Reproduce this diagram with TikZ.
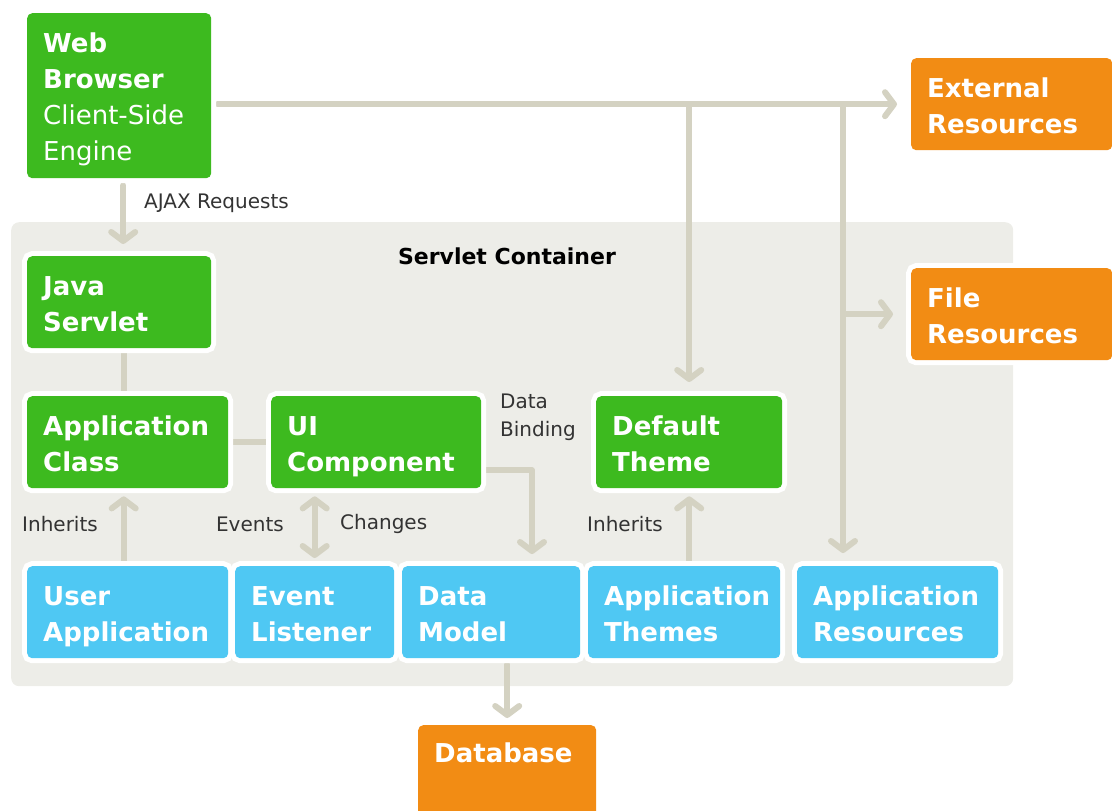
\documentclass[tikz,border=0pt]{standalone}
\usepackage{fontspec}
\setmainfont{DejaVu Sans}
\usetikzlibrary{arrows.meta,calc}
\definecolor{vgreen}{HTML}{3DBA1F}
\definecolor{vblue}{HTML}{4FC8F3}
\definecolor{vorange}{HTML}{F28C14}
\definecolor{vgrey}{HTML}{EDEDE8}
\definecolor{vline}{HTML}{D4D2C2}
\definecolor{vtext}{HTML}{333333}
\pgfdeclarelayer{bg}
\pgfdeclarelayer{conn}
\pgfsetlayers{bg,conn,main}
\tikzset{
  box/.style={rounded corners=5pt, anchor=north west, inner xsep=16pt, inner ysep=0pt,
    align=left, text=white, font=\fontsize{26}{36}\selectfont\bfseries,
    preaction={draw=white, line width=10pt},
    execute at begin node={\rule{0pt}{39pt}},
    execute at end node={\rule[-17pt]{0pt}{0pt}}},
  greenbox/.style={box, fill=vgreen},
  bluebox/.style={box, fill=vblue},
  orangebox/.style={box, fill=vorange},
  conn/.style={draw=vline, line width=6pt, line cap=round, line join=round,
    -{Straight Barb[length=9pt,width=24pt,round]}},
  plainconn/.style={draw=vline, line width=6pt},
  lbl/.style={font=\fontsize{20}{28}\selectfont, text=vtext, inner sep=0pt},
}
\begin{document}
\begin{tikzpicture}[x=1pt,y=-1pt]
\useasboundingbox (0,0) rectangle (1112,811);
% container
\begin{pgfonlayer}{bg}
\node[fill=vgrey, rounded corners=8pt, anchor=north west, minimum width=1002pt,
  minimum height=464pt, inner sep=0pt] (sc) at (11,222) {};
\end{pgfonlayer}
\node[font=\fontsize{22}{26}\selectfont\bfseries, text=black, inner sep=0pt] (sctitle) at (507,256) {Servlet Container};

% green boxes
\node[greenbox, text width=152pt, minimum height=165pt] (wb) at (27,13)
  {Web\\Browser\\\mdseries Client-Side\\\mdseries Engine};
\node[greenbox, text width=152pt, minimum height=91pt] (js) at (27,256) {Java\\Servlet};
\node[greenbox, text width=169pt, minimum height=92pt] (ac) at (27,396) {Application\\Class};
\node[greenbox, text width=178pt, minimum height=92pt] (ui) at (271,396) {UI\\Component};
\node[greenbox, text width=154pt, minimum height=92pt] (dt) at (596,396) {Default\\Theme};
% blue boxes
\node[bluebox, text width=169pt, minimum height=91pt] (ua) at (27,566) {User\\Application};
\node[bluebox, text width=127pt, minimum height=91pt] (el) at (235,566) {Event\\Listener};
\node[bluebox, text width=146pt, minimum height=91pt] (dm) at (402,566) {Data\\Model};
\node[bluebox, text width=160pt, minimum height=91pt] (at) at (588,566) {Application\\Themes};
\node[bluebox, text width=169pt, minimum height=91pt] (ar) at (797,566) {Application\\Resources};
% orange boxes
\node[orangebox, text width=169pt, minimum height=92pt] (er) at (911,58) {External\\Resources};
\node[orangebox, text width=169pt, minimum height=91pt] (fr) at (911,268) {File\\Resources};
\node[orangebox, execute at begin node={}, execute at end node={},
  text width=146pt, text height=19pt, text depth=40pt, inner ysep=18pt] (db) at (418,725) {Database};

% labels
\node[lbl, anchor=west] (lajax) at (144,203) {AJAX Requests};
\node[lbl, anchor=west] (linh1) at (22,524) {Inherits};
\node[lbl, anchor=east] (levents) at (284,524) {Events};
\node[lbl, anchor=west] (lchanges) at (340,524) {Changes};
\node[lbl, anchor=west, align=left] (lbind) at (500,417) {Data\\Binding};
\node[lbl, anchor=west] (linh2) at (587,524) {Inherits};

% connectors
\coordinate (arin) at ($(ar.north west)+(46pt,0)$);
\coordinate (dmin) at ($(dm.north west)+(130pt,0)$);
\begin{pgfonlayer}{conn}
\draw[conn, shorten >=14pt] ([xshift=6pt]wb.east |- er.west) -- (er.west);
\draw[conn, shorten >=14pt] (dt.north |- er.west) -- (dt.north);
\draw[conn, shorten >=13pt] (arin |- er.west) -- (arin);
\draw[conn, shorten >=18pt] (arin |- fr.west) -- (fr.west);
\draw[conn, shorten <=7pt, shorten >=12pt] ([xshift=4pt]wb.south) -- ([xshift=4pt]js.north);
\draw[plainconn] ([xshift=5pt]js.south) -- ([xshift=5pt]js.south |- ac.north);
\draw[plainconn] (ac.east) -- (ui.west);
\draw[conn, shorten >=8pt] ([xshift=-4pt]ua.north) -- ([xshift=-4pt]ac.south);
\draw[conn, {Straight Barb[length=9pt,width=24pt,round]}-{Straight Barb[length=9pt,width=24pt,round]},
  shorten >=8pt, shorten <=8pt] (el.north |- ui.south) -- (el.north);
\draw[conn, shorten >=12pt] ([yshift=18pt]ui.south east) -| (dmin);
\draw[conn, shorten <=6pt, shorten >=7pt] (db.north |- dm.south) -- (db.north);
\draw[conn, shorten >=8pt] (at.north -| dt.north) -- (dt.south);
\end{pgfonlayer}
\end{tikzpicture}
\end{document}
